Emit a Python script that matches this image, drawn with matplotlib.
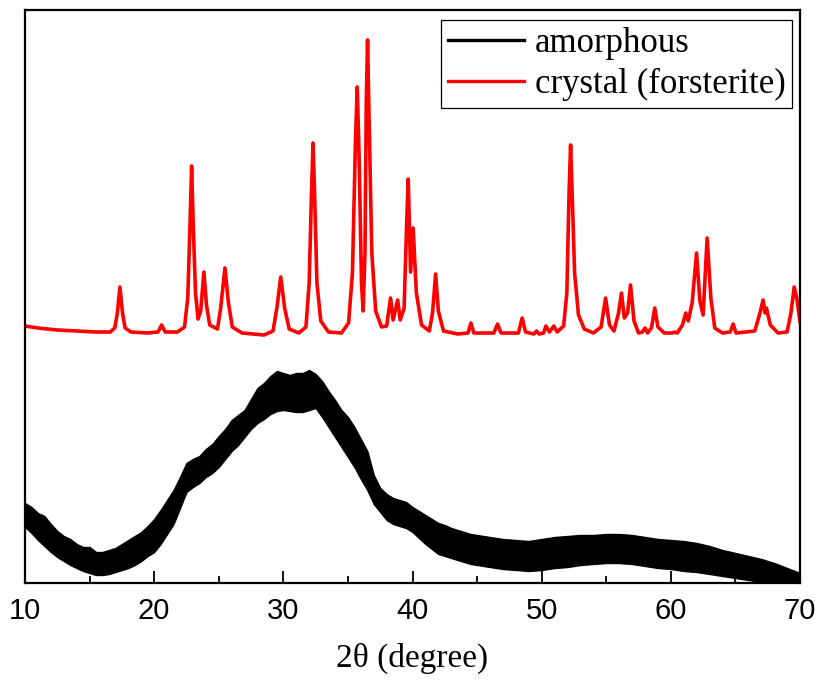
import numpy as np
import matplotlib
matplotlib.use('Agg')
import matplotlib.pyplot as plt
from matplotlib.lines import Line2D

# ── Data (intensity in arbitrary units) ────────────────────────────────────
# crystal (forsterite) trace: (2theta, intensity)
crystal_trace = [
    (10.0, 257), (11.0, 255), (12.5, 253), (14.0, 252), (15.5, 251), (16.6, 251),
    (16.95, 255), (17.15, 270), (17.35, 296), (17.55, 270), (17.75, 255), (18.2, 251),
    (19.5, 250), (20.3, 251), (20.58, 258), (20.85, 251), (21.8, 251),
    (22.35, 256), (22.6, 285), (22.78, 360), (22.9, 417), (23.02, 360), (23.2, 290),
    (23.4, 264), (23.6, 272), (23.85, 311), (24.05, 278), (24.3, 258), (24.9, 254),
    (25.15, 275), (25.48, 315), (25.75, 280), (26.05, 256), (26.8, 250),
    (28.5, 248), (29.2, 252), (29.5, 275), (29.8, 306), (30.1, 275), (30.45, 254),
    (31.2, 250), (31.75, 256), (32.0, 300), (32.18, 390), (32.3, 440), (32.42, 390),
    (32.6, 300), (32.9, 262), (33.5, 251), (34.5, 250), (35.05, 260), (35.35, 310),
    (35.58, 440), (35.72, 496), (35.86, 430), (36.05, 300), (36.18, 272),
    (36.32, 330), (36.42, 480), (36.52, 543), (36.63, 470), (36.85, 330), (37.15, 272),
    (37.6, 256), (38.0, 257), (38.3, 285), (38.5, 263), (38.85, 283), (39.05, 263),
    (39.35, 275), (39.55, 360), (39.67, 404), (39.85, 311), (40.05, 355), (40.3, 290),
    (40.7, 258), (41.3, 252), (41.55, 270), (41.79, 309), (42.0, 272), (42.4, 252),
    (43.5, 249), (44.3, 250), (44.52, 260), (44.75, 250), (46.3, 250), (46.58, 259),
    (46.85, 250), (48.2, 250), (48.49, 265), (48.75, 251), (49.4, 249), (49.6, 252),
    (49.8, 249), (50.15, 250), (50.33, 257), (50.6, 251), (50.94, 257), (51.2, 251),
    (51.7, 257), (51.95, 290), (52.12, 390), (52.24, 438), (52.36, 390), (52.55, 310),
    (52.85, 268), (53.3, 254), (54.0, 250), (54.6, 256), (54.95, 285), (55.25, 258),
    (55.6, 252), (55.95, 270), (56.18, 290), (56.4, 265), (56.65, 270), (56.88, 298),
    (57.15, 262), (57.5, 250), (57.8, 251), (58.0, 255), (58.2, 250), (58.5, 255),
    (58.76, 275), (59.0, 256), (59.5, 250), (60.1, 250), (60.3, 251), (60.5, 250),
    (60.9, 258), (61.16, 270), (61.35, 262), (61.65, 280), (61.99, 330), (62.25, 282),
    (62.5, 268), (62.81, 345), (63.1, 285), (63.4, 255), (64.0, 250),
    (64.6, 251), (64.82, 259), (65.05, 250), (66.5, 252), (66.9, 270), (67.14, 283),
    (67.3, 270), (67.4, 275), (67.7, 258), (68.3, 250), (69.0, 251),
    (69.3, 270), (69.55, 296), (69.75, 285), (70.0, 261),
]
crystal_x = [p[0] for p in crystal_trace]
crystal_y = [p[1] for p in crystal_trace]

# amorphous trace: noisy band, upper and lower edges
amorph_x = [10, 10.5, 11, 11.5, 12, 12.5, 13, 13.5, 14, 14.5, 15, 15.5, 16, 16.5,
            17, 17.5, 18, 18.5, 19, 19.5, 20, 20.5, 21, 21.5, 22, 22.5, 23, 23.5,
            24, 24.5, 25, 25.5, 26, 26.5, 27, 27.5, 28, 28.5, 29, 29.5, 30, 30.5,
            31, 31.5, 32, 32.5, 33, 33.5, 34, 34.5, 35, 35.5, 36, 36.5, 37, 37.5,
            38, 38.5, 39, 39.5, 40, 40.5, 41, 41.5, 42, 42.5, 43, 43.5, 44, 44.5,
            45, 46, 47, 48, 49, 50, 51, 52, 53, 54, 55, 56, 57, 58, 59, 60, 61, 62,
            63, 64, 65, 66, 67, 68, 69, 70]
amorph_hi = [80, 76, 70, 67, 59, 52, 47, 44, 39, 36, 36, 31, 31, 33,
             35, 39, 43, 47, 51, 57, 64, 73, 83, 93, 106, 120, 124, 127,
             134, 139, 147, 154, 163, 168, 173, 184, 195, 200, 207, 212, 210, 208,
             210, 210, 213, 209, 202, 192, 183, 173, 166, 156, 144, 132, 108, 95,
             89, 85, 83, 81, 76, 72, 68, 64, 60, 58, 55, 53, 51, 49,
             48, 46, 44, 43, 42, 44, 46, 47, 48, 48, 49, 49, 48, 46, 44, 43, 42, 40,
             37, 33, 30, 27, 24, 20, 15, 10]
amorph_lo = [56, 50, 43, 37, 31, 26, 22, 18, 15, 12, 10, 8, 8, 9,
             11, 13, 15, 18, 22, 27, 31, 39, 49, 59, 75, 91, 96, 100,
             106, 110, 116, 124, 132, 138, 146, 154, 160, 164, 169, 172, 173, 172,
             171, 171, 173, 175, 166, 156, 146, 136, 126, 116, 104, 93, 79, 71,
             63, 59, 57, 55, 51, 45, 39, 34, 29, 27, 25, 23, 21, 19,
             18, 16, 14, 13, 12, 13, 15, 16, 18, 19, 20, 20, 19, 17, 15, 14, 12, 11,
             9, 7, 5, 3, 1, 0, 0, 0]

xticks = [10, 20, 30, 40, 50, 60, 70]

# ── Plot ────────────────────────────────────────────────────────────────────
fig = plt.figure(figsize=(8.16, 6.8), dpi=100)
ax = fig.add_axes([25 / 816, 97 / 680, 775 / 816, 573 / 680])

ax.fill_between(amorph_x, amorph_lo, amorph_hi, color='black', lw=1.0)
ax.plot(crystal_x, crystal_y, color='#ff0000', lw=2.6, solid_joinstyle='round')

ax.set_xlim(10, 70)
ax.set_ylim(0, 573)
ax.set_xticks(xticks)
ax.set_xticks(np.arange(15, 70, 10), minor=True)
ax.set_yticks([])
ax.tick_params(axis='x', which='major', direction='in', length=9, width=1.3)
ax.tick_params(axis='x', which='minor', direction='in', length=5, width=1.3)
ax.tick_params(axis='x', pad=10)
for lab in ax.get_xticklabels():
    lab.set_fontfamily(['Liberation Sans', 'DejaVu Sans'])
    lab.set_fontsize(21)
for sp in ax.spines.values():
    sp.set_linewidth(1.6)

ax.set_xlabel('2θ (degree)', fontfamily=['Liberation Serif', 'DejaVu Serif'],
              fontsize=24, labelpad=13)

handles = [Line2D([], [], color='black', lw=2.4),
           Line2D([], [], color='#ff0000', lw=2.4)]
leg = ax.legend(handles, ['amorphous', 'crystal (forsterite)'],
                loc='upper right', bbox_to_anchor=(0.99, 0.983),
                prop={'family': 'Liberation Serif', 'size': 25},
                frameon=True, fancybox=False, edgecolor='black', framealpha=1,
                handlelength=2.2, handletextpad=0.3, borderpad=0.2,
                labelspacing=0.25, borderaxespad=0)
leg.get_frame().set_linewidth(0.9)

fig.savefig('out.png', dpi=100)
